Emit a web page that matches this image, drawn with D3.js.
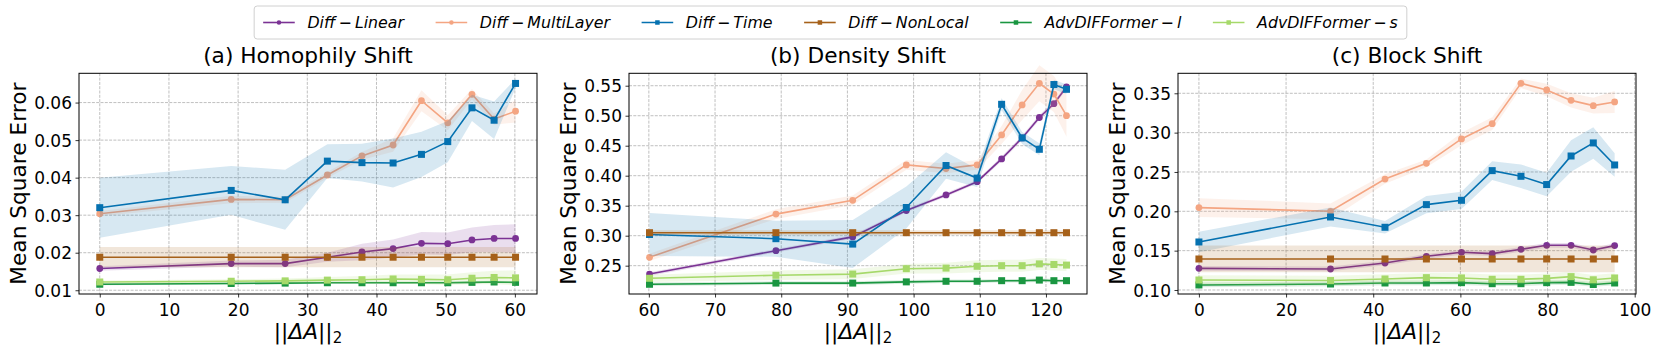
<!DOCTYPE html>
<html lang="en">
<head>
<meta charset="UTF-8">
<title>shift</title>
<script src="https://d3js.org/d3.v7.min.js"></script>
<style>
body { margin: 0; background: #fff; }
svg { display: block; font-family: "DejaVu Sans", sans-serif; }
.grid line { stroke: #b0b0b0; stroke-width: 0.8; stroke-dasharray: 3,1.3; }
.axis text { font-size: 17px; fill: #000; font-family: "DejaVu Sans", sans-serif; }
.axis line { stroke: #000; stroke-width: 0.8; }
</style>
</head>
<body>
<script>
// series, in legend order
const seriesNames = ["Diff\u2009\u2212\u2009Linear", "Diff\u2009\u2212\u2009MultiLayer", "Diff\u2009\u2212\u2009Time",
    "Diff\u2009\u2212\u2009NonLocal", "AdvDIFFormer\u2009\u2212\u2009l", "AdvDIFFormer\u2009\u2212\u2009s"];
const seriesColors = ["#7b3294", "#f4a582", "#0571b0", "#a6611a", "#1a9641", "#a6d96a"];
const seriesMarkers = ["circle", "circle", "square", "square", "square", "square"];

// (a) homophily shift
const homophilyX = [0, 19.0, 26.8, 32.9, 37.9, 42.4, 46.5, 50.3, 53.8, 57.0, 60.1];
const homophilyMean = [
    [0.0158, 0.0171, 0.0171, 0.0188, 0.0202, 0.0211, 0.0225, 0.0224, 0.0234, 0.0238, 0.0238],
    [0.0304, 0.0342, 0.0341, 0.0407, 0.0458, 0.0487, 0.0605, 0.0546, 0.0622, 0.0556, 0.0577],
    [0.0320, 0.0366, 0.0341, 0.0444, 0.0440, 0.0439, 0.0462, 0.0496, 0.0586, 0.0553, 0.0651],
    [0.0188, 0.0188, 0.0188, 0.0188, 0.0188, 0.0188, 0.0188, 0.0188, 0.0188, 0.0188, 0.0188],
    [0.0116, 0.0118, 0.0119, 0.0120, 0.0120, 0.0120, 0.0120, 0.0120, 0.0121, 0.0122, 0.0121],
    [0.0122, 0.0124, 0.0125, 0.0127, 0.0128, 0.0130, 0.0129, 0.0128, 0.0132, 0.0134, 0.0133]
];
const homophilyStd = [
    [0.0006, 0.0008, 0.0010, 0.0012, 0.0022, 0.0024, 0.0030, 0.0030, 0.0033, 0.0036, 0.0038],
    [0.0007, 0.0010, 0.0008, 0.0008, 0.0010, 0.0018, 0.0028, 0.0020, 0.0014, 0.0015, 0.0030],
    [0.0080, 0.0065, 0.0080, 0.0045, 0.0050, 0.0065, 0.0060, 0.0055, 0.0035, 0.0050, 0.0012],
    [0.0027, 0.0027, 0.0027, 0.0027, 0.0027, 0.0027, 0.0027, 0.0027, 0.0027, 0.0027, 0.0027],
    [0.0003, 0.0003, 0.0003, 0.0003, 0.0003, 0.0003, 0.0003, 0.0003, 0.0003, 0.0003, 0.0003],
    [0.0004, 0.0005, 0.0006, 0.0008, 0.0010, 0.0012, 0.0013, 0.0014, 0.0016, 0.0018, 0.0020]
];
const homophilyXTicks = [0, 10, 20, 30, 40, 50, 60];
const homophilyYTicks = [0.01, 0.02, 0.03, 0.04, 0.05, 0.06];
const homophilyXLim = [-3.0, 63.2];
const homophilyYLim = [0.0090, 0.0678];

// (b) density shift
const densityX = [60.1, 79.2, 90.8, 98.9, 104.9, 109.6, 113.3, 116.4, 119.0, 121.2, 123.1];
const densityMean = [
    [0.236, 0.275, 0.298, 0.342, 0.368, 0.390, 0.428, 0.463, 0.497, 0.520, 0.548],
    [0.264, 0.336, 0.359, 0.418, 0.412, 0.418, 0.468, 0.518, 0.554, 0.536, 0.500],
    [0.302, 0.295, 0.286, 0.347, 0.417, 0.396, 0.519, 0.463, 0.444, 0.552, 0.544],
    [0.305, 0.305, 0.305, 0.305, 0.305, 0.305, 0.305, 0.305, 0.305, 0.305, 0.305],
    [0.219, 0.221, 0.221, 0.223, 0.224, 0.224, 0.225, 0.225, 0.226, 0.225, 0.225],
    [0.229, 0.234, 0.236, 0.245, 0.246, 0.249, 0.250, 0.250, 0.253, 0.252, 0.251]
];
const densityStd = [
    [0.003, 0.003, 0.003, 0.003, 0.003, 0.003, 0.004, 0.004, 0.004, 0.004, 0.004],
    [0.006, 0.008, 0.008, 0.008, 0.008, 0.008, 0.015, 0.025, 0.030, 0.030, 0.035],
    [0.036, 0.030, 0.040, 0.035, 0.022, 0.015, 0.010, 0.010, 0.010, 0.008, 0.008],
    [0.004, 0.004, 0.004, 0.004, 0.004, 0.004, 0.004, 0.004, 0.004, 0.004, 0.004],
    [0.003, 0.003, 0.003, 0.003, 0.003, 0.003, 0.003, 0.003, 0.003, 0.003, 0.003],
    [0.006, 0.008, 0.008, 0.008, 0.009, 0.010, 0.010, 0.010, 0.010, 0.010, 0.010]
];
const densityXTicks = [60, 70, 80, 90, 100, 110, 120];
const densityYTicks = [0.25, 0.30, 0.35, 0.40, 0.45, 0.50, 0.55];
const densityXLim = [57.0, 126.2];
const densityYLim = [0.2028, 0.5707];

// (c) block shift
const blockX = [0, 30.2, 42.7, 52.2, 60.25, 67.3, 73.9, 79.8, 85.4, 90.5, 95.4];
const blockMean = [
    [0.1275, 0.1267, 0.1343, 0.1428, 0.1479, 0.1462, 0.1517, 0.1568, 0.1568, 0.1508, 0.1564],
    [0.2047, 0.2000, 0.2410, 0.2610, 0.2920, 0.3114, 0.3627, 0.3542, 0.3410, 0.3343, 0.3390],
    [0.1610, 0.1928, 0.1797, 0.2085, 0.2140, 0.2517, 0.2445, 0.2340, 0.2703, 0.2869, 0.2589],
    [0.1394, 0.1394, 0.1394, 0.1394, 0.1394, 0.1394, 0.1394, 0.1394, 0.1394, 0.1394, 0.1394],
    [0.1064, 0.1076, 0.1089, 0.1089, 0.1093, 0.1080, 0.1080, 0.1093, 0.1097, 0.1070, 0.1089],
    [0.1127, 0.1120, 0.1140, 0.1157, 0.1153, 0.1136, 0.1136, 0.1148, 0.1170, 0.1130, 0.1153]
];
const blockStd = [
    [0.003, 0.003, 0.003, 0.003, 0.003, 0.003, 0.003, 0.003, 0.003, 0.003, 0.003],
    [0.012, 0.010, 0.006, 0.005, 0.008, 0.008, 0.006, 0.008, 0.009, 0.010, 0.014],
    [0.013, 0.012, 0.008, 0.011, 0.011, 0.012, 0.015, 0.015, 0.020, 0.020, 0.015],
    [0.017, 0.017, 0.017, 0.017, 0.017, 0.017, 0.017, 0.017, 0.017, 0.017, 0.017],
    [0.003, 0.003, 0.003, 0.003, 0.003, 0.003, 0.003, 0.003, 0.003, 0.003, 0.003],
    [0.006, 0.006, 0.006, 0.006, 0.006, 0.006, 0.006, 0.006, 0.006, 0.006, 0.006]
];
const blockXTicks = [0, 20, 40, 60, 80, 100];
const blockYTicks = [0.10, 0.15, 0.20, 0.25, 0.30, 0.35];
const blockXLim = [-4.8, 100.3];
const blockYLim = [0.0949, 0.3754];

const panels = [
    { title: "(a) Homophily Shift", x: homophilyX, mean: homophilyMean, std: homophilyStd,
      xTicks: homophilyXTicks, yTicks: homophilyYTicks, xLim: homophilyXLim, yLim: homophilyYLim, left: 79 },
    { title: "(b) Density Shift", x: densityX, mean: densityMean, std: densityStd,
      xTicks: densityXTicks, yTicks: densityYTicks, xLim: densityXLim, yLim: densityYLim, left: 629 },
    { title: "(c) Block Shift", x: blockX, mean: blockMean, std: blockStd,
      xTicks: blockXTicks, yTicks: blockYTicks, xLim: blockXLim, yLim: blockYLim, left: 1178 }
];

const W = 1661, H = 353;
const plotTop = 73.3, plotW = 458, plotH = 220.7;

const svg = d3.select("body").append("svg").attr("width", W).attr("height", H);

function drawMarker(sel, kind, color, size) {
    if (kind === "circle") {
        sel.append("circle").attr("r", size / 2).attr("fill", color);
    } else {
        sel.append("rect").attr("x", -size / 2).attr("y", -size / 2)
            .attr("width", size).attr("height", size).attr("fill", color);
    }
}

panels.forEach(p => {
    const g = svg.append("g").attr("transform", `translate(${p.left},${plotTop})`);
    const x = d3.scaleLinear().domain(p.xLim).range([0, plotW]);
    const y = d3.scaleLinear().domain(p.yLim).range([plotH, 0]);

    // grid
    const grid = g.append("g").attr("class", "grid");
    grid.selectAll(".gx").data(p.xTicks).join("line").attr("class", "gx")
        .attr("x1", d => x(d)).attr("x2", d => x(d)).attr("y1", 0).attr("y2", plotH);
    grid.selectAll(".gy").data(p.yTicks).join("line").attr("class", "gy")
        .attr("x1", 0).attr("x2", plotW).attr("y1", d => y(d)).attr("y2", d => y(d));

    p.mean.forEach((vals, s) => {
        const pts = p.x.map((xv, i) => ({ x: xv, m: vals[i], sd: p.std[s][i] }));
        const band = d3.area().x(d => x(d.x)).y0(d => y(d.m - d.sd)).y1(d => y(d.m + d.sd));
        g.append("path").datum(pts).attr("d", band)
            .attr("fill", seriesColors[s]).attr("fill-opacity", 0.16);
        const line = d3.line().x(d => x(d.x)).y(d => y(d.m));
        g.append("path").datum(pts).attr("d", line)
            .attr("fill", "none").attr("stroke", seriesColors[s]).attr("stroke-width", 1.6);
        g.append("g").selectAll("g").data(pts).join("g")
            .attr("transform", d => `translate(${x(d.x)},${y(d.m)})`)
            .each(function () {
                drawMarker(d3.select(this), seriesMarkers[s], seriesColors[s],
                    seriesMarkers[s] === "circle" ? 6.8 : 7);
            });
    });

    // frame
    g.append("rect").attr("width", plotW).attr("height", plotH)
        .attr("fill", "none").attr("stroke", "#000").attr("stroke-width", 1);

    const ax = g.append("g").attr("class", "axis").attr("transform", `translate(0,${plotH})`)
        .call(d3.axisBottom(x).tickValues(p.xTicks).tickFormat(d3.format("d"))
            .tickSize(3.5).tickPadding(6).tickSizeOuter(0));
    ax.select(".domain").remove();
    const ay = g.append("g").attr("class", "axis")
        .call(d3.axisLeft(y).tickValues(p.yTicks).tickFormat(d3.format(".2f"))
            .tickSize(3.5).tickPadding(3.5).tickSizeOuter(0));
    ay.select(".domain").remove();
    ay.selectAll("text").attr("dy", "0.36em");

    g.append("text").attr("x", plotW / 2).attr("y", -10)
        .attr("text-anchor", "middle").attr("font-size", 21.7).text(p.title);

    g.append("text").attr("transform", `translate(-53,${plotH / 2}) rotate(-90)`)
        .attr("text-anchor", "middle").attr("font-size", 21.7).text("Mean Square Error");

    const xl = g.append("text").attr("x", plotW / 2).attr("y", 266)
        .attr("text-anchor", "middle").attr("font-size", 21.7);
    xl.append("tspan").text("||");
    xl.append("tspan").attr("font-style", "italic").text("\u0394A");
    xl.append("tspan").text("||");
    xl.append("tspan").attr("font-size", 15).attr("dy", 4).text("2");
});

// legend
const legFont = 15.8;
const handleLen = 2 * legFont, handlePad = 0.8 * legFont, colSpace = 2 * legFont, boxPad = 9;
const leg = svg.append("g");
const legBox = leg.append("rect");
const items = leg.selectAll("g.item").data(seriesNames).join("g").attr("class", "item");
items.append("line").attr("x1", 0).attr("x2", handleLen).attr("y1", 0).attr("y2", 0)
    .attr("stroke", (d, i) => seriesColors[i]).attr("stroke-width", 1.6);
items.each(function (d, i) {
    const m = d3.select(this).append("g").attr("transform", `translate(${handleLen / 2},0)`);
    drawMarker(m, seriesMarkers[i], seriesColors[i], 4.5);
});
items.append("text").attr("x", handleLen + handlePad).attr("y", 5.6)
    .attr("font-size", legFont).attr("font-style", "italic").text(d => d);

let cursor = 0;
const offsets = [];
items.each(function () {
    offsets.push(cursor);
    const tw = d3.select(this).select("text").node().getComputedTextLength();
    cursor += handleLen + handlePad + tw + colSpace;
});
const legW = cursor - colSpace + 2 * boxPad;
const legX = (W - legW) / 2, legTop = 6, legH = 33;
items.attr("transform", (d, i) => `translate(${legX + boxPad + offsets[i]},${legTop + legH / 2})`);
legBox.attr("x", legX).attr("y", legTop).attr("width", legW).attr("height", legH)
    .attr("rx", 3).attr("fill", "#fff").attr("stroke", "#d0d0d0").attr("stroke-width", 1);
</script>
</body>
</html>
